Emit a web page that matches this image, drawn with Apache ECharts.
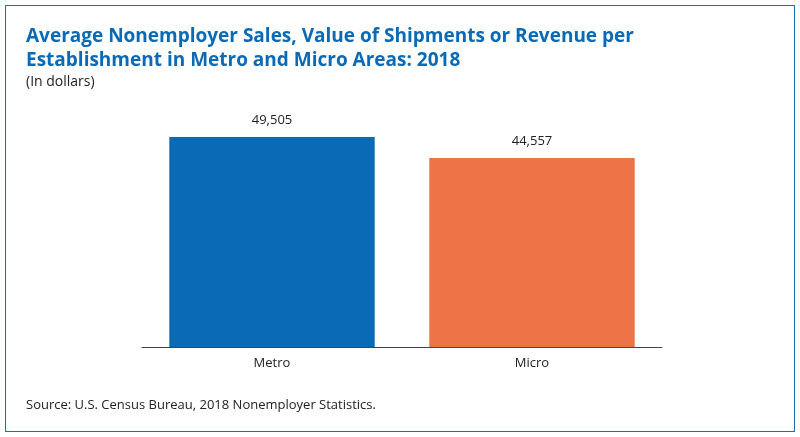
<!DOCTYPE html>
<html>
<head>
<meta charset="utf-8">
<script src="https://cdn.jsdelivr.net/npm/echarts@6/dist/echarts.min.js"></script>
<style>
  html, body { margin: 0; padding: 0; background: #fff; }
  #main { width: 800px; height: 437px; }
  #frame { position: absolute; left: 5px; top: 5px; width: 788px; height: 425px; border: 1px solid #1b6fb5; pointer-events: none; }
</style>
</head>
<body>
<div id="main"></div>
<div id="frame"></div>
<script>
  var categories = ['Metro', 'Micro'];
  var values = [49505, 44557];
  var barColors = ['#0b6ab5', '#ee7447'];

  var chart = echarts.init(document.getElementById('main'));
  var option = {
    animation: false,
    title: [
      {
        text: 'Average Nonemployer Sales, Value of Shipments or Revenue per\nEstablishment in Metro and Micro Areas: 2018',
        left: 21, top: 20,
        textStyle: { fontFamily: 'Open Sans', fontSize: 19, fontWeight: 'bold', color: '#0b6ab5', lineHeight: 24 }
      },
      {
        text: '(In dollars)',
        left: 21, top: 70,
        textStyle: { fontFamily: 'Open Sans', fontSize: 14, fontWeight: 'normal', color: '#222' }
      },
      {
        text: 'Source: U.S. Census Bureau, 2018 Nonemployer Statistics.',
        left: 21, top: 394,
        textStyle: { fontFamily: 'Open Sans', fontSize: 13, fontWeight: 'normal', color: '#222' }
      }
    ],
    grid: { left: 142, right: 138, top: 92.5, bottom: 90 },
    xAxis: {
      type: 'category',
      data: categories,
      axisTick: { show: false },
      axisLine: { lineStyle: { color: '#444', width: 1 } },
      axisLabel: { fontFamily: 'Open Sans', fontSize: 13, color: '#222', margin: 10 }
    },
    yAxis: {
      type: 'value', min: 0, max: 60000,
      show: false
    },
    series: [{
      type: 'bar',
      barWidth: '79%',
      data: values.map(function (v, i) { return { value: v, itemStyle: { color: barColors[i] } }; }),
      label: {
        show: true, position: 'top', distance: 10,
        fontFamily: 'Open Sans', fontSize: 13, color: '#222',
        formatter: function (p) { return p.value.toLocaleString('en-US'); }
      }
    }]
  };
  chart.setOption(option);
</script>
</body>
</html>
